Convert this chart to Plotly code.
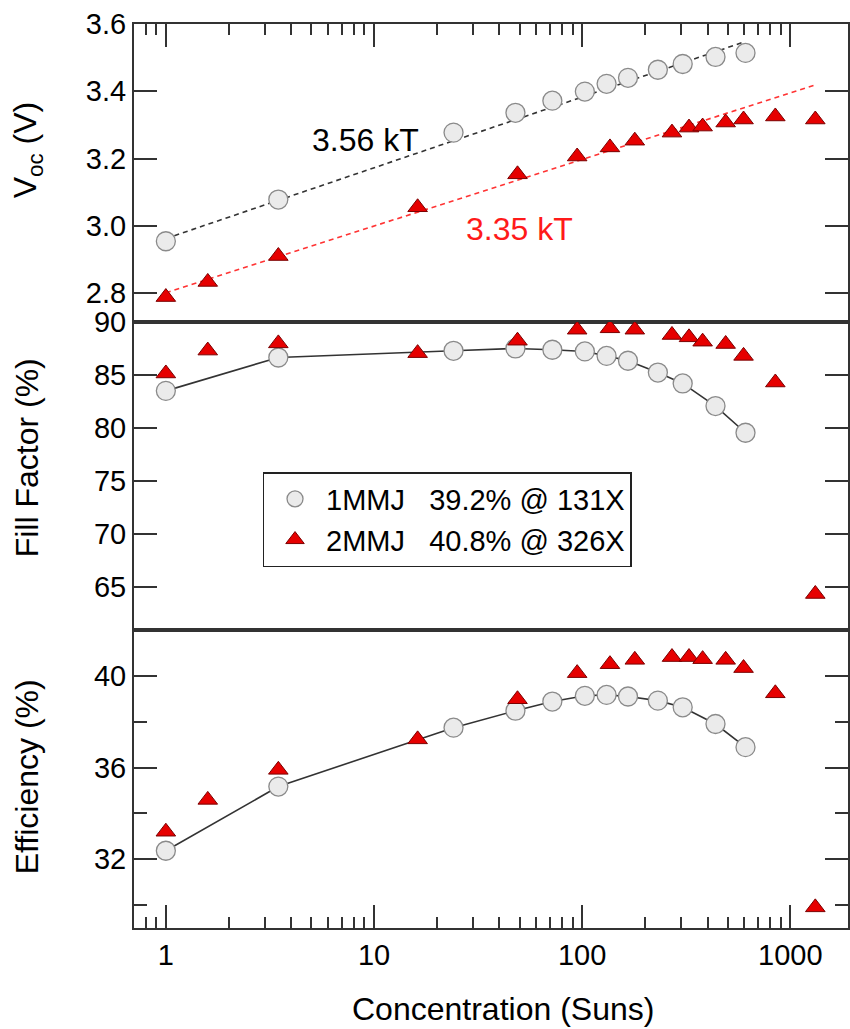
import math
import plotly.graph_objects as go

# ---------------- data ----------------
x_1mmj = [1.0, 3.47, 24.1, 47.8, 71.9, 103, 131, 166, 231, 304, 437, 609]
voc_1mmj = [2.954, 3.078, 3.277, 3.336, 3.372, 3.399, 3.422, 3.440, 3.464, 3.481, 3.502, 3.514]
ff_1mmj = [83.5, 86.65, 87.28, 87.5, 87.38, 87.22, 86.8, 86.34, 85.23, 84.2, 82.07, 79.55]
eff_1mmj = [32.37, 35.17, 37.74, 38.48, 38.88, 39.13, 39.17, 39.1, 38.92, 38.63, 37.9, 36.89]

x_2mmj = [1.0, 1.59, 3.47, 16.2, 48.9, 94.6, 136, 179, 270, 326, 379, 489, 596, 847, 1318]
voc_2mmj = [2.788, 2.833, 2.91, 3.055, 3.153, 3.206, 3.233, 3.253, 3.277, 3.292, 3.295,
            3.307, 3.316, 3.325, 3.316]
ff_2mmj = [85.14, 87.3, 87.98, 87.06, 88.23, 89.27, 89.4, 89.27, 88.77, 88.55, 88.14,
           87.92, 86.8, 84.29, 64.34]
eff_2mmj = [33.2, 34.59, 35.9, 37.23, 38.98, 40.12, 40.51, 40.7, 40.82, 40.82, 40.73,
            40.7, 40.34, 39.24, 29.9]

# linear-in-log fits to Voc (end points)
fit_1mmj_x = [1.0, 583]
fit_1mmj_y = [2.962, 3.544]
fit_2mmj_x = [1.0, 1318]
fit_2mmj_y = [2.801, 3.419]

legend_1mmj = "1MMJ\u00a0\u00a0\u00a039.2% @ 131X"
legend_2mmj = "2MMJ\u00a0\u00a0\u00a040.8% @ 326X"
label_1mmj = "3.56 kT"
label_2mmj = "3.35 kT"

x_tickvals = [1, 10, 100, 1000]
x_minor = [0.8, 0.9] + [m * d for d in (1, 10, 100) for m in range(2, 10)]

# ---------------- styling ----------------
FONT = "Liberation Sans, Arial, Helvetica, sans-serif"
AX = "#333333"
GRAY_FILL = "#ebebeb"
GRAY_EDGE = "#8a8a8a"
RED = "#e60000"
RED_EDGE = "#7a0000"

circle = dict(symbol="circle", size=19, color=GRAY_FILL, line=dict(color=GRAY_EDGE, width=1.3))
tri = dict(symbol="triangle-up", size=17, color=RED, line=dict(color=RED_EDGE, width=1))

fig = go.Figure()

# --- top panel: Voc ---
fig.add_trace(go.Scatter(x=fit_1mmj_x, y=fit_1mmj_y, mode="lines", xaxis="x", yaxis="y",
                         line=dict(color="#333333", width=1.6, dash="5px,4px"),
                         showlegend=False, hoverinfo="skip"))
fig.add_trace(go.Scatter(x=fit_2mmj_x, y=fit_2mmj_y, mode="lines", xaxis="x", yaxis="y",
                         line=dict(color="#ff3333", width=1.6, dash="5px,4px"),
                         showlegend=False, hoverinfo="skip"))
fig.add_trace(go.Scatter(x=x_1mmj, y=voc_1mmj, mode="markers", xaxis="x", yaxis="y",
                         marker=circle, name=legend_1mmj, showlegend=True))
fig.add_trace(go.Scatter(x=x_2mmj, y=voc_2mmj, mode="markers", xaxis="x", yaxis="y",
                         marker=tri, name=legend_2mmj, showlegend=True))

# --- middle panel: Fill factor ---
fig.add_trace(go.Scatter(x=x_1mmj, y=ff_1mmj, mode="lines+markers", xaxis="x2", yaxis="y2",
                         marker=circle, line=dict(color="#333333", width=1.6), showlegend=False))
fig.add_trace(go.Scatter(x=x_2mmj, y=ff_2mmj, mode="markers", xaxis="x2", yaxis="y2",
                         marker=tri, showlegend=False))

# --- bottom panel: Efficiency ---
fig.add_trace(go.Scatter(x=x_1mmj, y=eff_1mmj, mode="lines+markers", xaxis="x3", yaxis="y3",
                         marker=circle, line=dict(color="#333333", width=1.6), showlegend=False))
fig.add_trace(go.Scatter(x=x_2mmj, y=eff_2mmj, mode="markers", xaxis="x3", yaxis="y3",
                         marker=tri, showlegend=False))

xr = [-0.153, 3.277]
tickfont = dict(family=FONT, size=29, color="black")

def xaxis(**kw):
    d = dict(type="log", range=xr, showline=True, linecolor=AX, linewidth=2,
             mirror=True, showgrid=False, zeroline=False, tickcolor=AX, tickwidth=1.5,
             tickfont=tickfont)
    d.update(kw)
    return d

def yaxis(**kw):
    d = dict(showline=True, linecolor=AX, linewidth=2, mirror="ticks", showgrid=False,
             zeroline=False, ticks="inside", ticklen=23, tickcolor=AX, tickwidth=1.5,
             tickfont=tickfont)
    d.update(kw)
    return d

d_bot = [0.0, 0.3296]
d_mid = [0.3296, 0.6704]
d_top = [0.6704, 1.0]

fig.update_layout(
    width=850, height=1029,
    margin=dict(l=134, r=0, t=24, b=101),
    paper_bgcolor="white", plot_bgcolor="white",
    font=dict(family=FONT, size=29, color="black"),
    xaxis=xaxis(anchor="y", side="top", ticks="inside", ticklen=23, tickvals=x_tickvals,
                showticklabels=False,
                minor=dict(ticks="inside", ticklen=11, tickvals=x_minor, tickcolor=AX,
                           tickwidth=1.5, showgrid=False)),
    xaxis2=xaxis(anchor="y2", matches="x", ticks="", showticklabels=False),
    xaxis3=xaxis(anchor="y3", matches="x", side="bottom", ticks="inside", ticklen=23,
                 tickvals=x_tickvals, ticktext=[str(v) for v in x_tickvals],
                 minor=dict(ticks="inside", ticklen=11, tickvals=x_minor, tickcolor=AX,
                            tickwidth=1.5, showgrid=False)),
    yaxis=yaxis(domain=d_top, anchor="x", range=[2.714, 3.6], tick0=2.8, dtick=0.2,
                tickformat=".1f"),
    yaxis2=yaxis(domain=d_mid, anchor="x2", range=[60.94, 90], tick0=65, dtick=5),
    yaxis3=yaxis(domain=d_bot, anchor="x3", range=[29.0, 42.0], tick0=32, dtick=4,
                 minor=dict(ticks="inside", ticklen=13, tickvals=[30, 34, 38],
                            tickcolor=AX, tickwidth=1.5, showgrid=False)),
    legend=dict(x=0.180, y=0.5044, xanchor="left", yanchor="top",
                bgcolor="white", bordercolor="#222222", borderwidth=1.5,
                font=dict(family=FONT, size=29, color="black"),
                itemwidth=52, tracegroupgap=0),
    annotations=[
        dict(text="V<sub>oc</sub> (V)", xref="paper", yref="paper", x=-0.1494, y=0.8606,
             textangle=-90, showarrow=False, xanchor="center", yanchor="middle",
             font=dict(family=FONT, size=32)),
        dict(text="Fill Factor (%)", xref="paper", yref="paper", x=-0.1494, y=0.5199,
             textangle=-90, showarrow=False, xanchor="center", yanchor="middle",
             font=dict(family=FONT, size=32)),
        dict(text="Efficiency (%)", xref="paper", yref="paper", x=-0.1494, y=0.167,
             textangle=-90, showarrow=False, xanchor="center", yanchor="middle",
             font=dict(family=FONT, size=32)),
        dict(text="Concentration (Suns)", xref="paper", yref="paper", x=0.517, y=-0.0896,
             showarrow=False, xanchor="center", yanchor="middle",
             font=dict(family=FONT, size=32)),
        dict(text=label_1mmj, xref="x", yref="y", x=0.957, y=3.256, showarrow=False,
             xanchor="center", yanchor="middle", font=dict(family=FONT, size=32, color="black")),
        dict(text=label_2mmj, xref="x", yref="y", x=1.699, y=2.99, showarrow=False,
             xanchor="center", yanchor="middle", font=dict(family=FONT, size=32, color="#ff1a1a")),
    ],
)

fig.write_html("out.html")
